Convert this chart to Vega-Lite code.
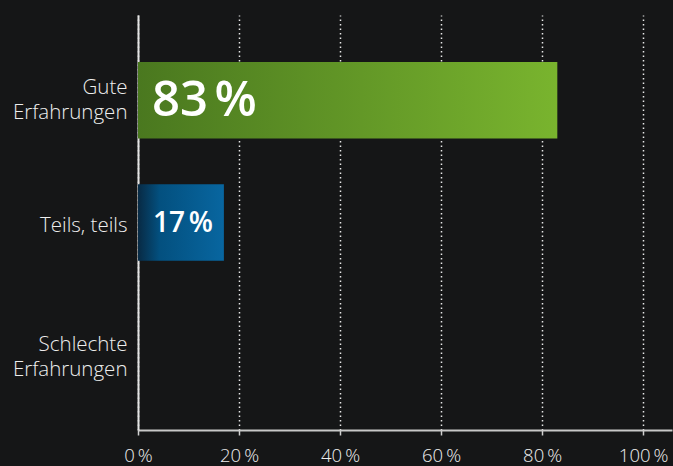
{
  "$schema": "https://vega.github.io/schema/vega-lite/v6.json",
  "width": 534,
  "height": 415,
  "autosize": "none",
  "padding": {"left": 138, "top": 15, "right": 1, "bottom": 36},
  "background": "#151617",
  "config": {"view": {"stroke": null}, "font": "Open Sans"},
  "data": {
    "values": [
      {"category": "Gute Erfahrungen", "value": 83, "label": "83\u202f%"},
      {"category": "Teils, teils", "value": 17, "label": "17\u202f%"},
      {"category": "Schlechte Erfahrungen", "value": 0, "label": ""}
    ]
  },
  "encoding": {
    "y": {
      "field": "category",
      "type": "nominal",
      "sort": ["Gute Erfahrungen", "Teils, teils", "Schlechte Erfahrungen"],
      "scale": {
        "domain": ["Gute Erfahrungen", "Teils, teils", "Schlechte Erfahrungen"],
        "paddingInner": 0.374,
        "paddingOuter": 0.384
      },
      "axis": {
        "title": null,
        "ticks": false,
        "grid": false,
        "domainColor": "#e4e4e4",
        "domainWidth": 2,
        "labelColor": "#eeeeee",
        "labelFontSize": 20.5,
        "labelFontWeight": 300,
        "labelPadding": 11,
        "labelLineHeight": 25,
        "labelOffset": {
          "condition": [
            {"test": "datum.value == 'Gute Erfahrungen'", "value": -12},
            {"test": "datum.value == 'Teils, teils'", "value": 3}
          ],
          "value": 0
        },
        "labelExpr": "datum.label == 'Teils, teils' ? datum.label : split(datum.label, ' ')"
      }
    }
  },
  "layer": [
    {
      "transform": [{"filter": "datum.category == 'Gute Erfahrungen'"}],
      "mark": {
        "type": "bar",
        "color": {
          "gradient": "linear", "x1": 0, "y1": 0, "x2": 1, "y2": 0,
          "stops": [
            {"offset": 0, "color": "#4a781f"},
            {"offset": 1, "color": "#79b42e"}
          ]
        }
      },
      "encoding": {
        "x": {
          "field": "value",
          "type": "quantitative",
          "scale": {"domain": [0, 105.7], "nice": false, "zero": true},
          "axis": {
            "title": null,
            "values": [0, 20, 40, 60, 80, 100],
            "grid": true,
            "gridColor": "#e8e8e8",
            "gridDash": [1.5, 3],
            "gridWidth": 1.5,
            "domainColor": "#c8c8c8",
            "domainWidth": 2,
            "tickColor": "#d0d0d0",
            "tickSize": 5,
            "tickWidth": 1.5,
            "labelColor": "#eeeeee",
            "labelFontSize": 18.5,
            "labelFontWeight": 300,
            "labelPadding": 11,
            "labelFlush": false,
            "labelExpr": "datum.value + '\u2009%'"
          }
        }
      }
    },
    {
      "transform": [{"filter": "datum.category == 'Teils, teils'"}],
      "mark": {
        "type": "bar",
        "color": {
          "gradient": "linear", "x1": 0, "y1": 0, "x2": 1, "y2": 0,
          "stops": [
            {"offset": 0, "color": "#082a44"},
            {"offset": 0.25, "color": "#03507f"},
            {"offset": 1, "color": "#0866a0"}
          ]
        }
      },
      "encoding": {"x": {"field": "value", "type": "quantitative"}}
    },
    {
      "transform": [{"filter": "datum.category == 'Gute Erfahrungen'"}],
      "mark": {"type": "text", "align": "left", "baseline": "middle", "dx": 14, "dy": 1, "fontSize": 49, "fontWeight": 600, "color": "#ffffff"},
      "encoding": {"x": {"datum": 0, "type": "quantitative"}, "text": {"field": "label"}}
    },
    {
      "transform": [{"filter": "datum.category == 'Teils, teils'"}],
      "mark": {"type": "text", "align": "left", "baseline": "middle", "dx": 15, "dy": 1, "fontSize": 28, "fontWeight": 600, "color": "#ffffff"},
      "encoding": {"x": {"datum": 0, "type": "quantitative"}, "text": {"field": "label"}}
    }
  ]
}
